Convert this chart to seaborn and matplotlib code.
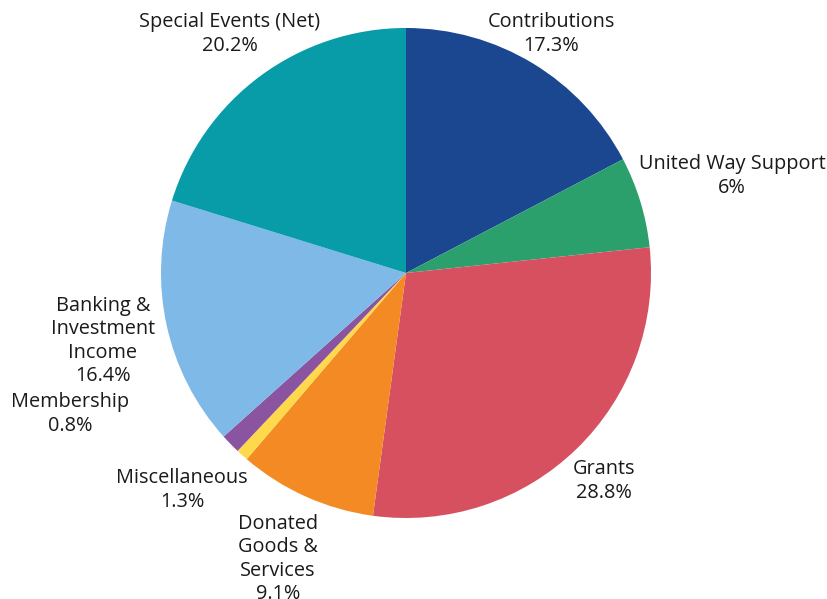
import matplotlib
matplotlib.use("Agg")
import matplotlib.pyplot as plt
import seaborn as sns

# slices, clockwise from 12 o'clock
categories = [
    "Contributions",
    "United Way Support",
    "Grants",
    "Donated Goods & Services",
    "Membership",
    "Miscellaneous",
    "Banking & Investment Income",
    "Special Events (Net)",
]
shares = [17.3, 6.0, 28.8, 9.1, 0.8, 1.3, 16.4, 20.2]
share_text = ["17.3%", "6%", "28.8%", "9.1%", "0.8%", "1.3%", "16.4%", "20.2%"]
label_lines = [
    "Contributions",
    "United Way Support",
    "Grants",
    "Donated\nGoods &\nServices",
    "Membership",
    "Miscellaneous",
    "Banking &\nInvestment\nIncome",
    "Special Events (Net)",
]
colors = ["#1a4790", "#2ba06d", "#d65060", "#f38a24", "#ffd94c",
          "#8b54a1", "#7eb9e7", "#079ca8"]

# label centre positions in pixels of the 827x599 canvas (layout only)
label_px = {
    "Contributions": (551, 34),
    "United Way Support": (732, 176),
    "Grants": (604, 481),
    "Donated Goods & Services": (278, 559),
    "Membership": (70, 414),
    "Miscellaneous": (182, 490),
    "Banking & Investment Income": (103, 341),
    "Special Events (Net)": (230, 34),
}

W, H = 827, 599
CX, CY, R = 406, 273, 245

sns.set_theme(style="white")
plt.rcParams["font.family"] = ["Open Sans", "DejaVu Sans"]

fig = plt.figure(figsize=(W / 100, H / 100), dpi=100)
ax = fig.add_axes([0, 0, 1, 1])

ax.pie(shares, colors=sns.color_palette(colors), startangle=90,
       counterclock=False, radius=1.0, center=(0, 0),
       wedgeprops={"linewidth": 0})

# pie() resets the limits, so fix the canvas mapping afterwards
ax.set_xlim(-CX / R, (W - CX) / R)
ax.set_ylim(-(H - CY) / R, CY / R)
ax.set_aspect("equal")
ax.axis("off")

for name, lines, pct in zip(categories, label_lines, share_text):
    px, py = label_px[name]
    ax.text((px - CX) / R, (CY - py) / R, f"{lines}\n{pct}",
            ha="center", va="center", fontsize=14.3, color="#1a1a1a",
            linespacing=1.22)

fig.savefig("out.png", dpi=100)
